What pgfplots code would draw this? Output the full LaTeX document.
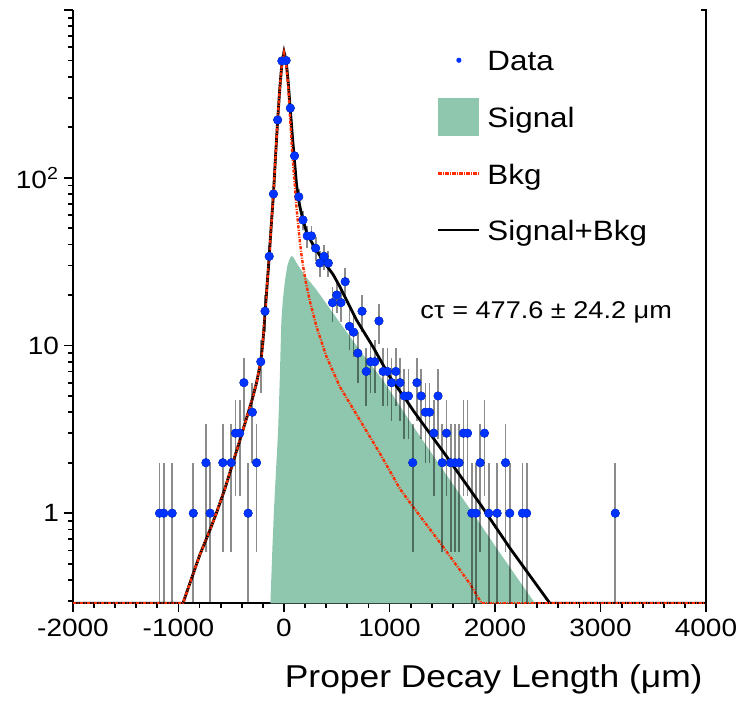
\documentclass[border=0pt]{standalone}
\usepackage{fontspec}
\setmainfont{Liberation Sans}[FakeStretch=1.12]
\usepackage{pgfplots}
\usepackage{pgfplotstable}
\pgfplotsset{compat=1.18}
\definecolor{datacol}{RGB}{0,51,255}
\definecolor{sigcol}{RGB}{143,199,174}
\definecolor{bkgcol}{RGB}{255,45,0}

\pgfplotstableread{
x y ep em
-1180 1 1 0.999
-1140 1 1 0.999
-1060 1 1 0.999
-860 1 1 0.999
-740 2 1.414 1.414
-700 1 1 0.999
-580 2 1.414 1.414
-500 2 1.414 1.414
-460 3 1.732 1.732
-420 3 1.732 1.732
-380 6 2.449 2.449
-340 1 1 0.999
-300 4 2 2
-260 2 1.414 1.414
-220 8 2.828 2.828
-180 16 4 4
-140 34 5.831 5.831
-100 80 8.944 8.944
-60 221 14.866 14.866
-20 497 22.293 22.293
20 500 22.361 22.361
60 260 16.125 16.125
100 135 11.619 11.619
140 77 8.775 8.775
180 56 7.483 7.483
220 45 6.708 6.708
260 45 6.708 6.708
300 38 6.164 6.164
340 31 5.568 5.568
380 34 5.831 5.831
420 31 5.568 5.568
460 18 4.243 4.243
500 20 4.472 4.472
540 18 4.243 4.243
580 24 4.899 4.899
620 13 3.606 3.606
660 12 3.464 3.464
700 9 3 3
740 16 4 4
780 7 2.646 2.646
820 8 2.828 2.828
860 8 2.828 2.828
900 14 3.742 3.742
940 7 2.646 2.646
980 7 2.646 2.646
1020 6 2.449 2.449
1060 7 2.646 2.646
1100 6 2.449 2.449
1140 5 2.236 2.236
1180 5 2.236 2.236
1220 2 1.414 1.414
1260 6 2.449 2.449
1300 5 2.236 2.236
1340 4 2 2
1380 4 2 2
1420 3 1.732 1.732
1460 5 2.236 2.236
1500 2 1.414 1.414
1540 3 1.732 1.732
1580 2 1.414 1.414
1620 2 1.414 1.414
1660 2 1.414 1.414
1700 3 1.732 1.732
1740 3 1.732 1.732
1780 1 1 0.999
1820 1 1 0.999
1860 2 1.414 1.414
1900 3 1.732 1.732
1940 1 1 0.999
2020 1 1 0.999
2100 2 1.414 1.414
2140 1 1 0.999
2260 1 1 0.999
2300 1 1 0.999
3140 1 1 0.999
}\datatable

\begin{document}
\begin{tikzpicture}
\begin{axis}[
  scale only axis, width=316.5pt, height=296.7pt,
  xmin=-2000, xmax=4000, ymode=log, ymin=0.29, ymax=1000,
  axis x line*=bottom, axis y line*=left,
  axis line style={line width=1pt},
  xtick={-2000,-1000,0,1000,2000,3000,4000},
  xticklabels={-2000,-1000,0,1000,2000,3000,4000},
  minor x tick num=4,
  ytick={1,10,100,1000},
  yticklabels={1,10,10\textsuperscript{2},},
  yticklabel style={xshift=1pt},
  minor ytick={0.3,0.4,0.5,0.6,0.7,0.8,0.9,2,3,4,5,6,7,8,9,20,30,40,50,60,70,80,90,200,300,400,500,600,700,800,900},
  tick align=outside,
  major tick length=4.5pt, minor tick length=2.5pt,
  tick style={black, line width=0.9pt},
  ticklabel style={font=\fontsize{12.5}{15}\selectfont},
  xlabel={Proper Decay Length (μm)},
  xlabel style={at={(rel axis cs:1,0)}, anchor=base east, yshift=-42.3pt, xshift=-1.5pt, inner sep=0pt, font=\fontsize{15.8}{18}\selectfont},
  legend style={at={(rel axis cs:0.5755,0.948)}, anchor=north west, draw=none, fill=none,
    inner sep=0pt, outer sep=0pt, row sep=8.9pt, column sep=3.5pt,
    font=\fontsize{14}{16}\selectfont,
    nodes={inner sep=0pt, text height=15pt, text depth=4.4pt}},
  legend cell align=left,
]
\addlegendimage{draw=none, legend image code/.code={\path[draw=none,fill=none] (0pt,0pt) -- (20.5pt,0pt); \fill[datacol] (10.25pt,0pt) circle (1.3pt);}}
\addlegendentry{Data}
\addlegendimage{draw=none, legend image code/.code={\fill[sigcol] (0pt,-9.6pt) rectangle (20.5pt,9.6pt);}}
\addlegendentry{Signal}
\addlegendimage{legend image code/.code={\draw[bkgcol, line width=1.1pt, dash pattern=on 1.6pt off 0.7pt on 0.5pt off 0.7pt] (0pt,0pt) -- (20.5pt,0pt);}}
\addlegendentry{Bkg}
\addlegendimage{legend image code/.code={\draw[black, line width=1pt] (0pt,0pt) -- (20.5pt,0pt);}}
\addlegendentry{Signal+Bkg}

% Signal
\addplot[forget plot, draw=none, fill=sigcol] coordinates {
(-129,0.29) (-110,0.62) (-95,1.05) (-80,1.6) (-65,2.4) (-55,3.2) (-41,6) (-25,14) (-10,19)
(10,24.5) (30,29.5) (50,32.5) (70,34.2) (90,33.5) (120,31) (149,29) (200,26) (307,21.5)
(497,14.6) (750,8.8) (939,6.2) (1224,3.3) (1500,1.84) (1800,0.98) (2030,0.6) (2379,0.29)
} -- cycle;

% Signal+Bkg
\addplot[forget plot, black, line width=1.4pt] coordinates {
(-2000,0.29) (-958,0.29) (-900,0.37) (-800,0.56) (-700,0.80) (-641,1.0) (-560,1.4) (-484,2.0)
(-420,2.7) (-360,3.6) (-300,4.8) (-260,6.0) (-220,8) (-200,10.5) (-180,15.5) (-160,23)
(-140,34) (-120,53) (-100,80) (-80,135) (-60,221) (-40,340) (-20,480) (0,563)
(20,500) (40,370) (60,255) (80,175) (100,125) (118,92) (133,78) (149,68) (180,56) (220,46)
(275,40) (370,32) (465,26.5) (528,22.5) (687,14.2) (844,9.8) (1003,6.5) (1161,4.7) (1224,4.1)
(1541,2.18) (1857,1.14) (2141,0.62) (2521,0.29) (4000,0.29)
};

% Bkg
\addplot[forget plot, bkgcol, line width=1.2pt, dash pattern=on 1.6pt off 0.7pt on 0.5pt off 0.7pt] coordinates {
(-2000,0.29) (-958,0.29) (-900,0.37) (-800,0.56) (-700,0.80) (-641,1.0) (-560,1.4) (-484,2.0)
(-420,2.7) (-360,3.6) (-300,4.8) (-260,6.0) (-220,8) (-200,10.5) (-180,15.5) (-160,23)
(-140,34) (-120,53) (-100,80) (-80,135) (-60,221) (-40,340) (-20,480) (0,555)
(20,480) (40,350) (60,215) (80,135) (101,92) (120,65) (143,46) (165,35) (180,30) (206,24)
(244,18.5) (307,13) (402,8.6) (528,5.7) (718,3.6) (908,2.28) (1098,1.4) (1224,1.09)
(1477,0.67) (1762,0.38) (1873,0.29) (4000,0.29)
};

% Data: error bars
\addplot[forget plot, only marks, mark=none,
  error bars/.cd, y dir=both, y explicit, error mark=none,
  error bar style={draw=black, opacity=0.45, line width=0.85pt}]
  table[x=x, y=y, y error plus=ep, y error minus=em] {\datatable};
% Data: points
\addplot[forget plot, color=datacol, only marks, mark=*, mark size=2pt, mark options={draw=datacol, fill=datacol}]
  table[x=x, y=y] {\datatable};

\node[anchor=base west, inner sep=0pt, font=\fontsize{12.1}{14}\selectfont] at (axis cs:1290,14.5) {cτ = 477.6 ± 24.2 μm};

\coordinate (A) at (rel axis cs:0,0);
\coordinate (B) at (rel axis cs:1,1);
\end{axis}
\draw[line width=1pt] (A -| B) -- (B) -- ++(-2.5pt,0);
\pgfresetboundingbox
\path[use as bounding box] ([xshift=-36.5pt,yshift=-52.35pt]A) rectangle ([xshift=19pt,yshift=5pt]B);
\end{tikzpicture}
\end{document}
